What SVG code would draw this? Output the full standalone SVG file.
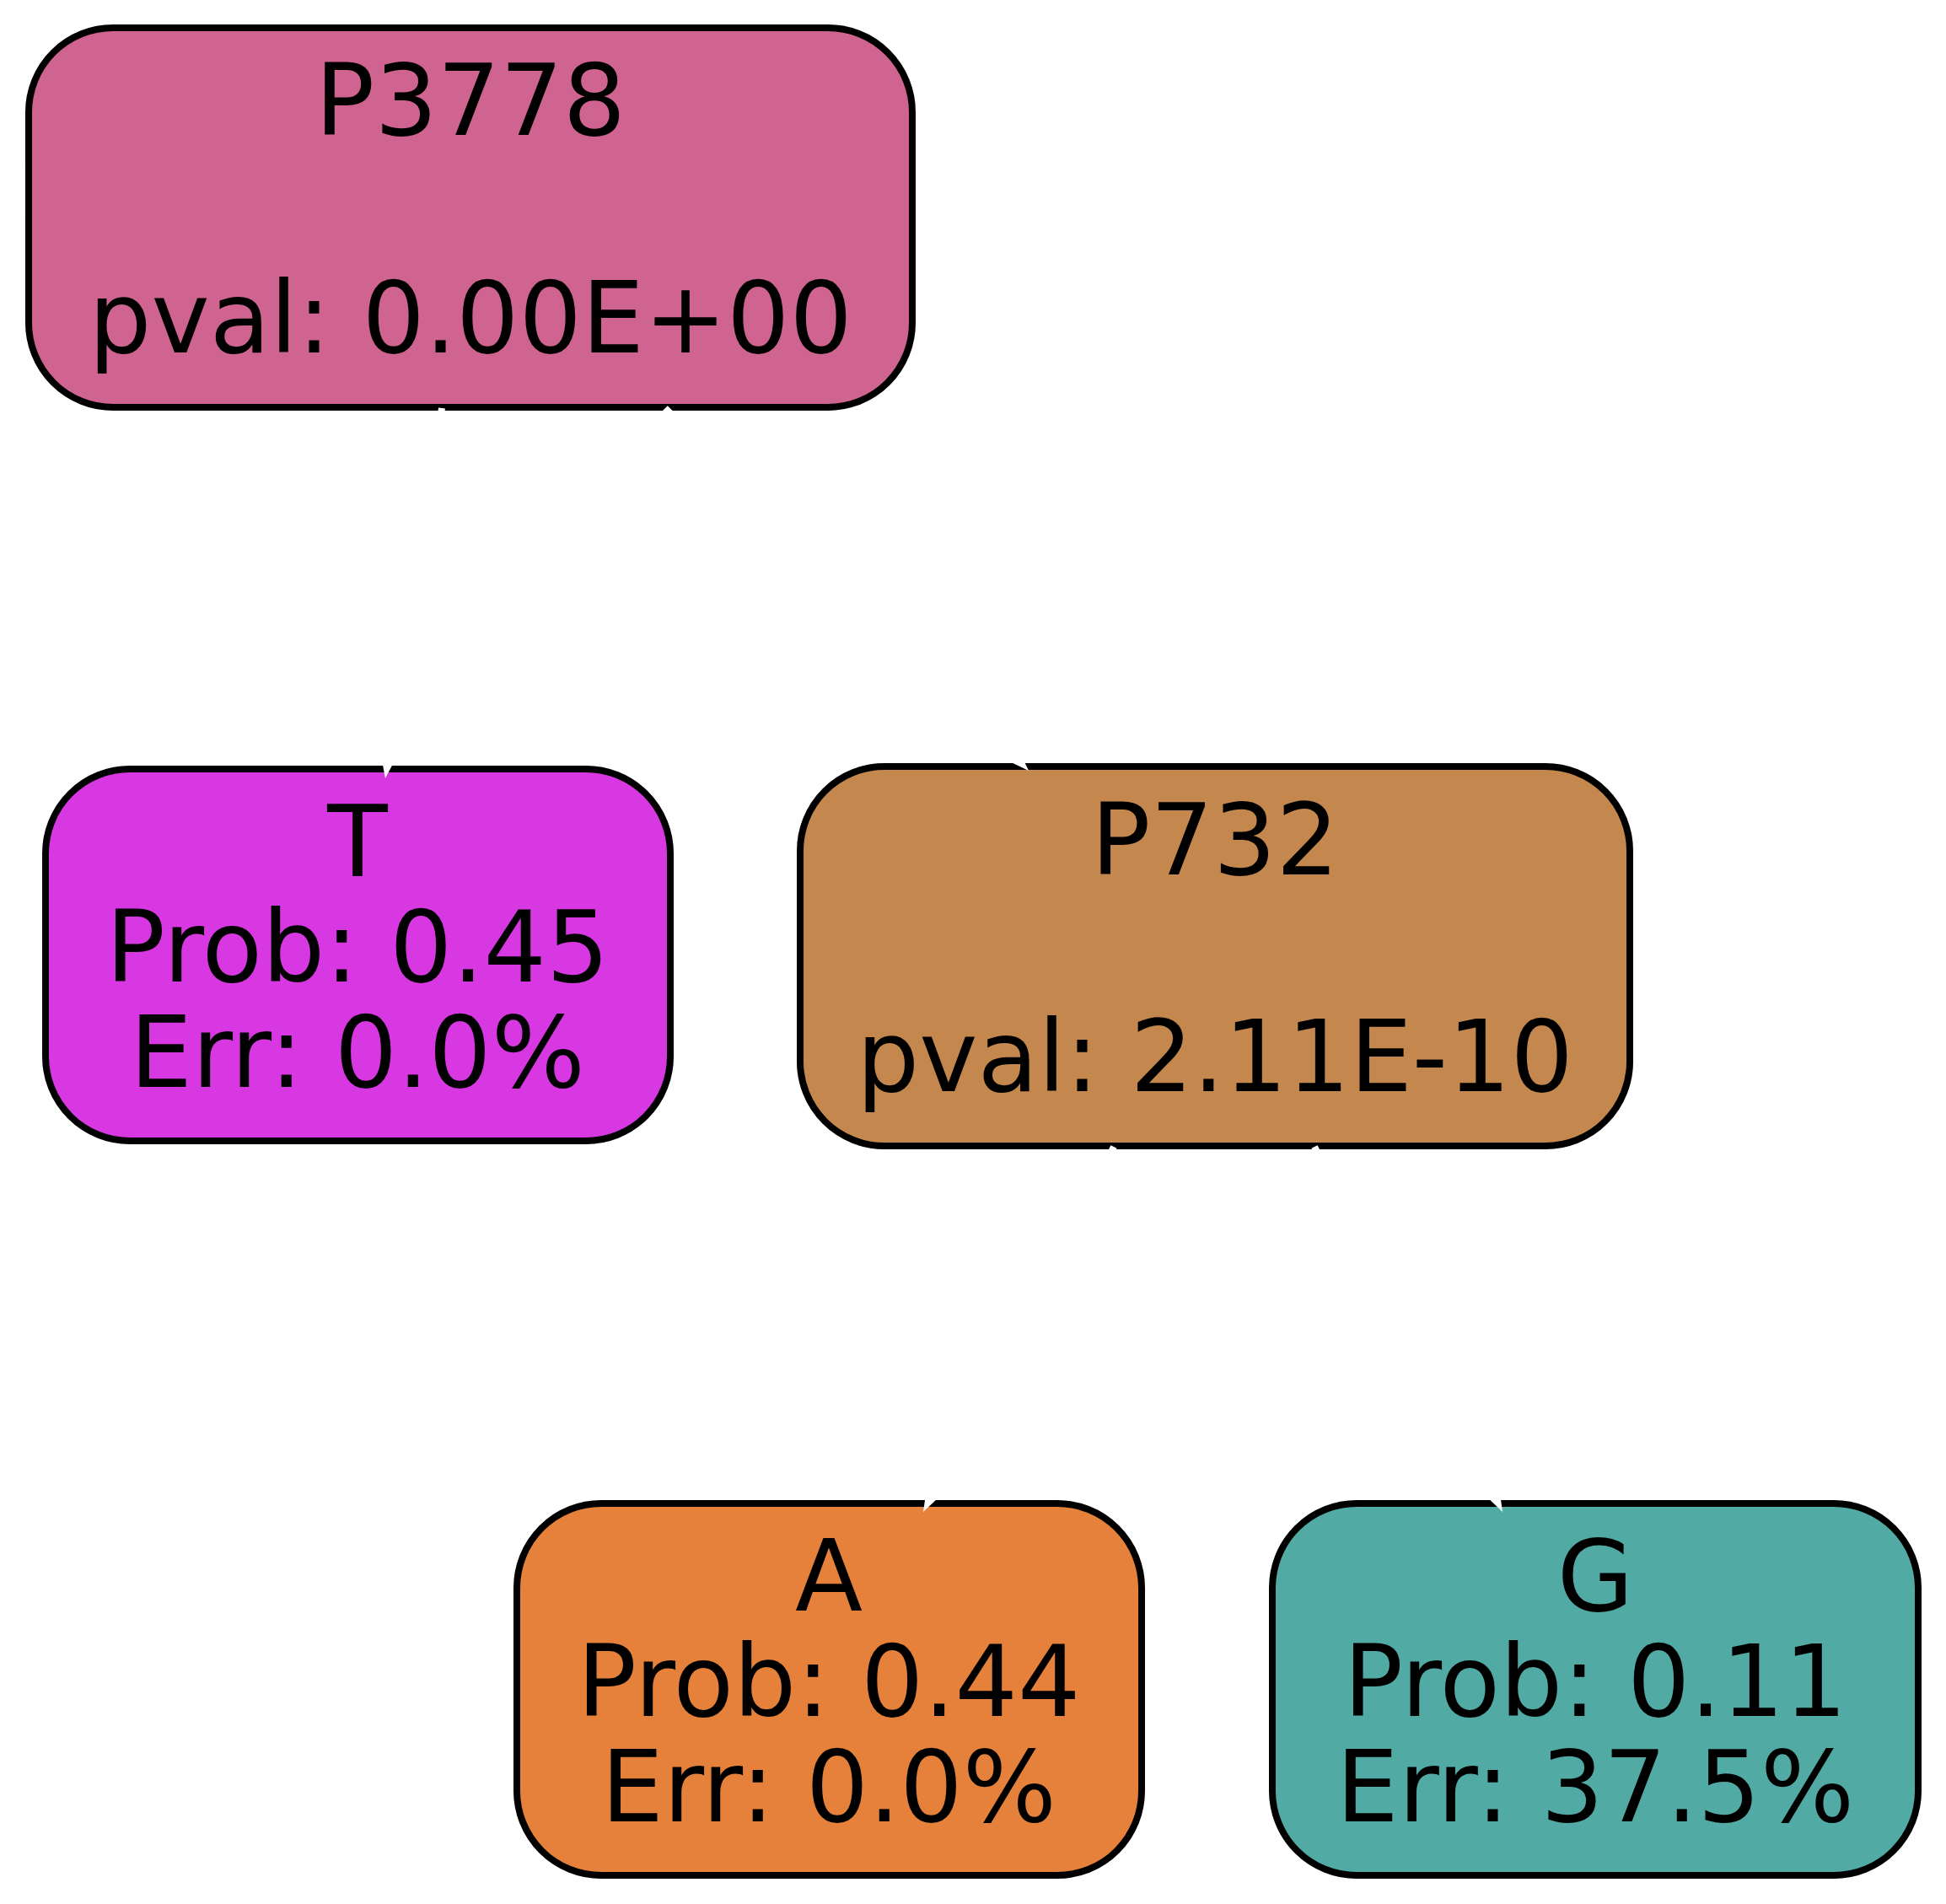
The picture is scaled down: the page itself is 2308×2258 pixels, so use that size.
<svg xmlns="http://www.w3.org/2000/svg" width="2308" height="2258" viewBox="0 0 2308 2258">
<style>
.node rect{stroke:#000;stroke-width:8}
.node text{font-family:"DejaVu Sans","Liberation Sans",sans-serif;font-size:117px;text-anchor:middle;fill:#000}
.edge path{fill:none;stroke:#fff;stroke-width:8}
</style>
<defs>
<marker id="arr" viewBox="0 0 40 28" refX="0" refY="14" markerWidth="40" markerHeight="28" markerUnits="userSpaceOnUse" orient="auto">
<path d="M0,0 L40,14 L0,28 z" fill="#fff"/>
</marker>
</defs>
<rect width="2308" height="2258" fill="#fff"/>
<g id="P3778" class="node">
<rect x="34" y="33" width="1048" height="450" rx="100" ry="100" fill="#d06490"/>
<text x="558" y="160">P3778</text>
<text x="558" y="418">pval: 0.00E+00</text>
</g>
<g id="T" class="node">
<rect x="54" y="912" width="741" height="441" rx="100" ry="100" fill="#d738e2"/>
<text x="424" y="1039">T</text>
<text x="424" y="1164">Prob: 0.45</text>
<text x="424" y="1289">Err: 0.0%</text>
</g>
<g id="P732" class="node">
<rect x="949" y="909" width="984" height="450" rx="100" ry="100" fill="#c4884f"/>
<text x="1441" y="1037">P732</text>
<text x="1441" y="1294">pval: 2.11E-10</text>
</g>
<g id="A" class="node">
<rect x="613" y="1783" width="741" height="441" rx="100" ry="100" fill="#e5813a"/>
<text x="983" y="1910">A</text>
<text x="983" y="2035">Prob: 0.44</text>
<text x="983" y="2160">Err: 0.0%</text>
</g>
<g id="G" class="node">
<rect x="1509" y="1783" width="766" height="441" rx="100" ry="100" fill="#52aaa4"/>
<text x="1892" y="1910">G</text>
<text x="1892" y="2035">Prob: 0.11</text>
<text x="1892" y="2160">Err: 37.5%</text>
</g>
<g id="edges" class="edge">
<path d="M524,484 L463,883.5" marker-end="url(#arr)"/>
<path d="M789,484 L1191.7,885.7" marker-end="url(#arr)"/>
<path d="M1321,1360 L1113.5,1757.5" marker-end="url(#arr)"/>
<path d="M1559,1360 L1763.7,1757.4" marker-end="url(#arr)"/>
</g>
</svg>
